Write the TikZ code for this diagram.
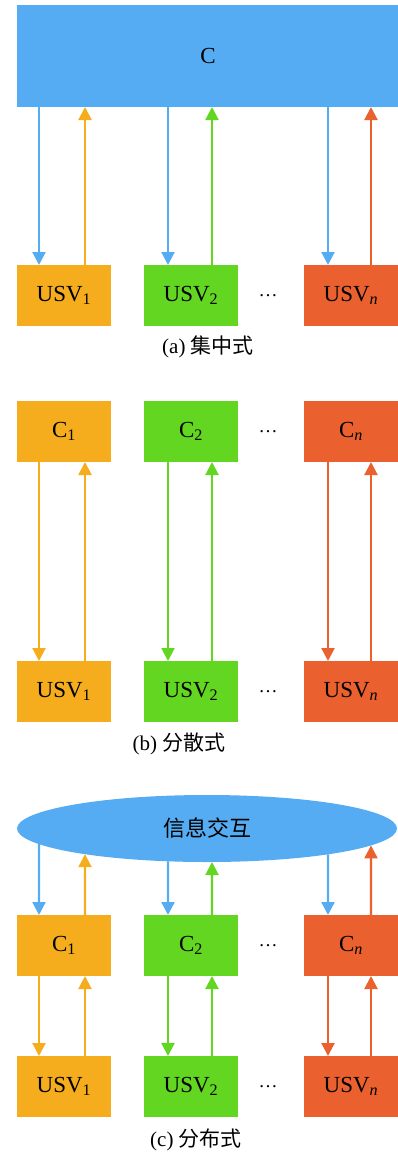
\documentclass[tikz,border=0pt]{standalone}
\usepackage{fontspec}
\setmainfont{Liberation Serif}
\newfontfamily\cjk{Noto Sans CJK SC}
\usetikzlibrary{arrows.meta,intersections,shapes.geometric}
\definecolor{cblue}{HTML}{55ACF2}
\definecolor{corange}{HTML}{F5AD1E}
\definecolor{cgreen}{HTML}{62D621}
\definecolor{cred}{HTML}{EA602F}
\tikzset{
  box/.style={minimum width=94pt, minimum height=61pt, inner sep=0pt, outer sep=0pt, font=\fontsize{23}{25}\selectfont},
  arr/.style={line width=2.2pt, -{Triangle[width=13pt,length=13pt]}},
  dotstxt/.style={font=\fontsize{19}{20}\selectfont, inner sep=0pt},
  captxt/.style={font=\fontsize{21}{24}\selectfont},
}
\newcommand{\mydots}{…}
\begin{document}
\begin{tikzpicture}[x=1pt,y=-1pt]
\useasboundingbox (0,0) rectangle (397,1154);
% column x positions
\coordinate (x1) at (39,0);
\coordinate (x2) at (85,0);
\coordinate (x3) at (168,0);
\coordinate (x4) at (212,0);
\coordinate (x5) at (328,0);
\coordinate (x6) at (371,0);

% ---------- (a) ----------
\node[box, fill=cblue, minimum width=382pt, minimum height=102pt] (C) at (208,56) {C};
\node[box, fill=corange] (ua1) at (64,295.5) {USV\textsubscript{1}};
\node[box, fill=cgreen] (ua2) at (191,295.5) {USV\textsubscript{2}};
\node[box, fill=cred] (ua3) at (351,295.5) {USV\textsubscript{\itshape n}};
\node[dotstxt] (da) at (268,295.5) {\mydots};
\node[captxt] (capa) at (208,347) {(a) {\cjk 集中式}};
\draw[arr, cblue] (x1 |- C.south) -- (x1 |- ua1.north);
\draw[arr, corange] (x2 |- ua1.north) -- (x2 |- C.south);
\draw[arr, cblue] (x3 |- C.south) -- (x3 |- ua2.north);
\draw[arr, cgreen] (x4 |- ua2.north) -- (x4 |- C.south);
\draw[arr, cblue] (x5 |- C.south) -- (x5 |- ua3.north);
\draw[arr, cred] (x6 |- ua3.north) -- (x6 |- C.south);

% ---------- (b) ----------
\node[box, fill=corange] (cb1) at (64,431.5) {C\textsubscript{1}};
\node[box, fill=cgreen] (cb2) at (191,431.5) {C\textsubscript{2}};
\node[box, fill=cred] (cb3) at (351,431.5) {C\textsubscript{\itshape n}};
\node[dotstxt] (db1) at (268,431.5) {\mydots};
\node[box, fill=corange] (ub1) at (64,691.5) {USV\textsubscript{1}};
\node[box, fill=cgreen] (ub2) at (191,691.5) {USV\textsubscript{2}};
\node[box, fill=cred] (ub3) at (351,691.5) {USV\textsubscript{\itshape n}};
\node[dotstxt] (db2) at (268,691.5) {\mydots};
\node[captxt] (capb) at (179,744) {(b) {\cjk 分散式}};
\draw[arr, corange] (x1 |- cb1.south) -- (x1 |- ub1.north);
\draw[arr, corange] (x2 |- ub1.north) -- (x2 |- cb1.south);
\draw[arr, cgreen] (x3 |- cb2.south) -- (x3 |- ub2.north);
\draw[arr, cgreen] (x4 |- ub2.north) -- (x4 |- cb2.south);
\draw[arr, cred] (x5 |- cb3.south) -- (x5 |- ub3.north);
\draw[arr, cred] (x6 |- ub3.north) -- (x6 |- cb3.south);

% ---------- (c) ----------
\node[ellipse, fill=cblue, minimum width=380pt, minimum height=67pt, inner sep=0pt, outer sep=0pt,
      font=\fontsize{22}{24}\selectfont\cjk] (E) at (207,828.5) {信息交互};
\path[name path=Epath] (207,828.5) ellipse [x radius=190, y radius=33.5];
\foreach \i in {1,...,6}{
  \path[name path=v\i] (x\i |- E.center) -- ([yshift=-10pt]x\i |- E.south);
  \path[name intersections={of=Epath and v\i, by=e\i}];
}
\node[box, fill=corange] (cc1) at (64,945.5) {C\textsubscript{1}};
\node[box, fill=cgreen] (cc2) at (191,945.5) {C\textsubscript{2}};
\node[box, fill=cred] (cc3) at (351,945.5) {C\textsubscript{\itshape n}};
\node[dotstxt] (dc1) at (268,945.5) {\mydots};
\node[box, fill=corange] (uc1) at (64,1086.5) {USV\textsubscript{1}};
\node[box, fill=cgreen] (uc2) at (191,1086.5) {USV\textsubscript{2}};
\node[box, fill=cred] (uc3) at (351,1086.5) {USV\textsubscript{\itshape n}};
\node[dotstxt] (dc2) at (268,1086.5) {\mydots};
\node[captxt] (capc) at (196,1140) {(c) {\cjk 分布式}};
\draw[arr, cblue] (e1) -- (x1 |- cc1.north);
\draw[arr, corange] (x2 |- cc1.north) -- (e2);
\draw[arr, cblue] (e3) -- (x3 |- cc2.north);
\draw[arr, cgreen] (x4 |- cc2.north) -- (e4);
\draw[arr, cblue] (e5) -- (x5 |- cc3.north);
\draw[arr, cred] (x6 |- cc3.north) -- (e6);
\draw[arr, corange] (x1 |- cc1.south) -- (x1 |- uc1.north);
\draw[arr, corange] (x2 |- uc1.north) -- (x2 |- cc1.south);
\draw[arr, cgreen] (x3 |- cc2.south) -- (x3 |- uc2.north);
\draw[arr, cgreen] (x4 |- uc2.north) -- (x4 |- cc2.south);
\draw[arr, cred] (x5 |- cc3.south) -- (x5 |- uc3.north);
\draw[arr, cred] (x6 |- uc3.north) -- (x6 |- cc3.south);
\end{tikzpicture}
\end{document}
